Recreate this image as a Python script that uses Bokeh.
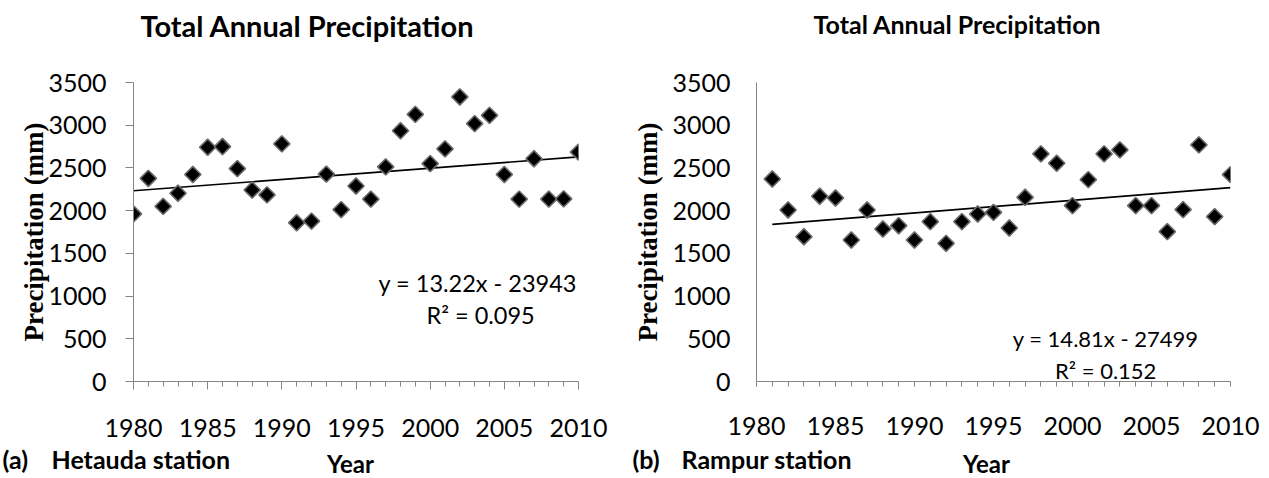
from bokeh.plotting import figure
from bokeh.models import FixedTicker, Label, Range1d
from bokeh.layouts import row, column
from bokeh.embed import file_html
from bokeh.resources import INLINE
import math

# ---------------- data ----------------
years_hetauda = [1980, 1981, 1982, 1983, 1984, 1985, 1986, 1987, 1988, 1989,
                 1990, 1991, 1992, 1993, 1994, 1995, 1996, 1997, 1998, 1999,
                 2000, 2001, 2002, 2003, 2004, 2005, 2006, 2007, 2008, 2009, 2010]
precip_hetauda = [1962, 2377, 2050, 2204, 2423, 2742, 2750, 2492, 2242, 2185,
                  2781, 1858, 1877, 2427, 2012, 2288, 2135, 2512, 2935, 3127,
                  2550, 2723, 3331, 3019, 3115, 2423, 2135, 2608, 2135, 2138, 2685]

years_rampur = [1981, 1982, 1983, 1984, 1985, 1986, 1987, 1988, 1989,
                1990, 1991, 1992, 1993, 1994, 1995, 1996, 1997, 1998, 1999,
                2000, 2001, 2002, 2003, 2004, 2005, 2006, 2007, 2008, 2009, 2010]
precip_rampur = [2371, 2008, 1695, 2168, 2148, 1656, 2008, 1785, 1824,
                 1656, 1871, 1617, 1871, 1961, 1980, 1797, 2156, 2664, 2555,
                 2059, 2363, 2664, 2711, 2059, 2059, 1754, 2012, 2770, 1930, 2422]

trend_hetauda = (13.22, -23943)
trend_rampur = (14.81, -27499)
eq_hetauda = ["y = 13.22x - 23943", "R\u00b2 = 0.095"]
eq_rampur = ["y = 14.81x - 27499", "R\u00b2 = 0.152"]

x_major_ticks = [1980, 1985, 1990, 1995, 2000, 2005, 2010]
x_minor_ticks = [1980, 1981, 1982, 1983, 1984, 1985, 1986, 1987, 1988, 1989,
                 1990, 1991, 1992, 1993, 1994, 1995, 1996, 1997, 1998, 1999,
                 2000, 2001, 2002, 2003, 2004, 2005, 2006, 2007, 2008, 2009, 2010]
y_ticks = [0, 500, 1000, 1500, 2000, 2500, 3000, 3500]

TITLE = "Total Annual Precipitation"
X_TITLE = "Year"
Y_TITLE = "Precipitation (mm)"
captions = [("(a)", "Hetauda station"), ("(b)", "Rampur station")]

TICK_FONT = "Lato"
AXIS_GRAY = "#868686"
W = 1269
TOP_H = 50
MID_H = 392
BOT_H = 36


def strip(height):
    s = figure(width=W, height=height, output_backend="svg", toolbar_location=None,
               x_range=Range1d(0, W), y_range=Range1d(height, 0),
               x_axis_type=None, y_axis_type=None,
               min_border_left=0, min_border_right=0, min_border_top=0,
               min_border_bottom=0)
    s.outline_line_color = None
    s.background_fill_color = "white"
    s.border_fill_color = "white"
    return s


def add_text(p, x, y, text, size, bold=True, align="left"):
    p.add_layout(Label(x=x, y=y, text=text, text_font="Lato",
                       text_font_style="bold" if bold else "normal",
                       text_font_size=size, text_align=align,
                       text_baseline="middle", text_color="black"))


def make_panel(years, precip, trend, eq, eq_pos, eq_size, width, mb_left, mb_right,
               mb_top, mb_bottom, y_tick_out, y_label_standoff, x_tick_major_out,
               x_label_standoff, ylab_standoff):
    p = figure(width=width, height=MID_H, output_backend="svg", toolbar_location=None,
               x_range=Range1d(1980, 2010), y_range=Range1d(0, 3500),
               min_border_left=mb_left, min_border_right=mb_right,
               min_border_top=mb_top, min_border_bottom=mb_bottom)
    p.grid.visible = False
    p.outline_line_color = None
    p.background_fill_color = "white"
    p.border_fill_color = "white"

    xa = p.xaxis[0]
    xa.ticker = FixedTicker(ticks=x_major_ticks, minor_ticks=x_minor_ticks)
    xa.axis_line_color = AXIS_GRAY
    xa.major_tick_line_color = AXIS_GRAY
    xa.minor_tick_line_color = AXIS_GRAY
    xa.major_tick_in = 0
    xa.major_tick_out = x_tick_major_out
    xa.minor_tick_in = 0
    xa.minor_tick_out = 5
    xa.major_label_standoff = x_label_standoff
    xa.major_label_text_font = TICK_FONT
    xa.major_label_text_font_size = "25px"
    xa.major_label_text_color = "black"

    ya = p.yaxis[0]
    ya.ticker = FixedTicker(ticks=y_ticks)
    ya.axis_line_color = AXIS_GRAY
    ya.major_tick_line_color = AXIS_GRAY if y_tick_out > 0 else None
    ya.minor_tick_line_color = None
    ya.major_tick_in = 0
    ya.major_tick_out = y_tick_out
    ya.major_label_standoff = y_label_standoff
    ya.major_label_text_font = TICK_FONT
    ya.major_label_text_font_size = "25px"
    ya.major_label_text_color = "black"
    ya.axis_label = Y_TITLE
    ya.axis_label_text_font = "Liberation Serif"
    ya.axis_label_text_font_style = "bold"
    ya.axis_label_text_font_size = "27px"
    ya.axis_label_text_color = "black"
    ya.axis_label_standoff = ylab_standoff

    slope, intercept = trend
    tx = [years[0], years[-1]]
    ty = [slope * v + intercept for v in tx]
    p.line(tx, ty, line_color="black", line_width=1.6)

    p.scatter(years, precip, marker="square", size=11.5, angle=math.pi / 4,
              fill_color="black", line_color="#6b6b6b", line_width=1.6)

    (ex1, al1, ey1), (ex2, al2, ey2) = eq_pos
    p.add_layout(Label(x=ex1, y=ey1, text=eq[0], text_font=TICK_FONT,
                       text_font_size=eq_size, text_align=al1,
                       text_baseline="middle", text_color="black"))
    p.add_layout(Label(x=ex2, y=ey2, text=eq[1], text_font=TICK_FONT,
                       text_font_size=eq_size, text_align=al2,
                       text_baseline="middle", text_color="black"))
    return p


p1 = make_panel(years_hetauda, precip_hetauda, trend_hetauda, eq_hetauda,
                ((2009.9, "right", 1150), (2003.4, "center", 775)), "23.5px",
                630, 133, 52, 27, 61, 8, 19, 8, 29, -4)
p2 = make_panel(years_rampur, precip_rampur, trend_rampur, eq_rampur,
                ((2002.1, "center", 500), (2002.1, "center", 130)), "22px",
                639, 114, 39, 32, 59, 0, 26, 5, 30, 6)

top = strip(TOP_H)
add_text(top, 307, 25, TITLE, "29px", align="center")
add_text(top, 957, 23, TITLE, "25px", align="center")

bottom = strip(BOT_H)
add_text(bottom, 2, 16, captions[0][0], "25px")
add_text(bottom, 51, 16, captions[0][1], "25px")
add_text(bottom, 632, 16, captions[1][0], "25px")
add_text(bottom, 681, 16, captions[1][1], "25px")
add_text(bottom, 350, 21, X_TITLE, "24px", align="center")
add_text(bottom, 986, 21, X_TITLE, "24px", align="center")

layout = column(top, row(p1, p2), bottom)
open("out.html", "w").write(file_html(layout, INLINE))
